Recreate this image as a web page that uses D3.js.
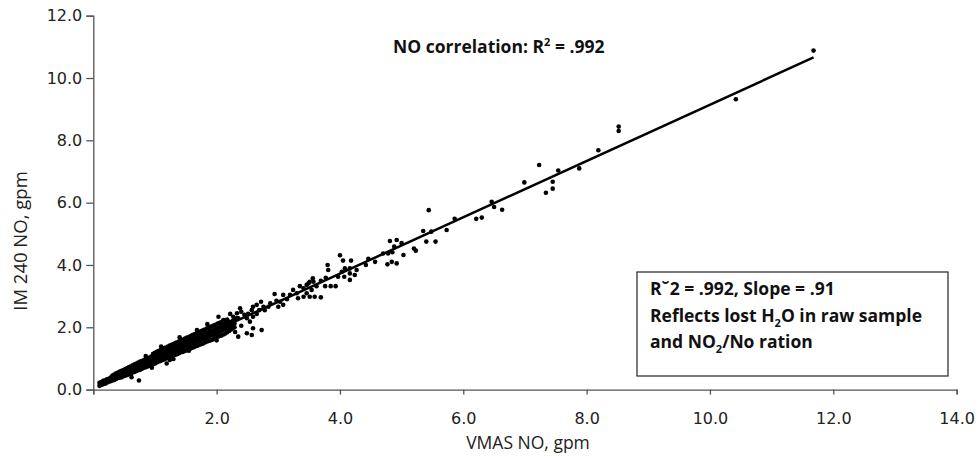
<!DOCTYPE html>
<html lang="en">
<head>
	<meta charset="utf-8">
	<title>VMAS NO vs IM 240 NO</title>
	<script type="text/javascript" src="https://cdn.jsdelivr.net/npm/d3@7/dist/d3.min.js"></script>
</head>
<style type="text/css">
	body{ margin:0; background:#fff; }
	svg{ display:block; }
	.tick text{ font-family:"DejaVu Sans", sans-serif; font-size:16px; fill:#222; }
	.axisTitle{ font-family:"Open Sans", "Liberation Sans", sans-serif; font-size:17.5px; fill:#222; }
	.note{ font-family:"Open Sans", "Liberation Sans", sans-serif; font-size:17.5px; font-weight:bold; fill:#111; }
</style>
<body>
<div id="vizContainer"></div>
<script type="text/javascript">
// -----------DATA-----------
var xTicks = [0, 2, 4, 6, 8, 10, 12, 14];
var xTickLabels = ["", "2.0", "4.0", "6.0", "8.0", "10.0", "12.0", "14.0"];
var yTicks = [0, 2, 4, 6, 8, 10, 12];
var yTickLabels = ["0.0", "2.0", "4.0", "6.0", "8.0", "10.0", "12.0"];

// regression line end points (VMAS NO, IM 240 NO)
var fitX = [0.10, 11.68];
var fitY = [0.20, 10.66];

// scattered vehicles
var pointsOutlying = [
	[11.68,10.88],[10.42,9.32],[8.52,8.44],[8.52,8.30],[8.19,7.68],[7.88,7.10],[7.54,7.03],
	[7.45,6.67],[7.45,6.45],[7.34,6.32],[7.23,7.21],[6.99,6.65],[6.63,5.77],[6.50,5.86],
	[6.46,6.03],[6.30,5.52],[6.21,5.48],[5.86,5.48],[5.44,5.76],[5.73,5.12],[5.48,5.07],
	[5.35,5.09],[5.40,4.75],[5.55,4.75],[4.81,4.77],[4.92,4.80],[5.00,4.70],[4.88,4.59],
	[5.03,4.32],[5.20,4.53],[5.23,4.46],[4.70,4.37],[4.78,4.37],[4.85,4.41],[4.77,4.02],
	[4.92,4.05],[4.84,4.10],[4.46,4.20],[4.57,4.10],[4.42,4.00],[4.00,4.31],[4.05,4.14],
	[4.18,4.14],[3.80,4.00],[3.81,3.84],[4.03,3.78],[4.08,3.89],[4.16,3.89],[4.27,3.84],
	[4.16,3.73],[4.07,3.62],[4.24,3.68],[4.16,3.52],[3.97,3.62],[3.77,3.59],[3.69,3.49],
	[3.56,3.57],[3.51,3.46],[3.49,3.41],[3.62,3.32],[3.76,3.32],[3.85,3.32],[3.93,3.32],
	[3.35,3.32],[3.41,3.25],[3.24,3.20],[3.30,3.09],[3.46,3.09],[3.51,2.98],[3.59,2.98],
	[3.69,2.96],[3.41,2.98],[3.32,2.93],[3.57,3.46],[3.46,3.36],[3.54,3.20],[3.19,3.04],
	[3.08,3.04],[3.14,2.90],[2.94,3.07],[2.97,2.85],[3.03,2.82],[3.00,2.66],[3.08,2.72],
	[2.87,2.77],[2.84,2.66],[2.76,2.66],[2.78,2.55],[2.72,2.82],[2.65,2.72],[2.59,2.66],
	[2.57,2.55],[2.69,2.55],[2.65,2.43],[2.59,2.34],[2.51,2.43],[2.49,2.29],[2.54,2.18],
	[2.38,2.61],[2.40,2.50],[2.33,2.45],[2.27,2.34],[2.22,2.43],[2.35,2.29],[2.59,1.97],
	[2.57,1.75],[2.73,1.91],[2.35,1.70],[2.49,1.81],[2.03,2.34],[2.11,2.23],[2.19,2.18],
	[1.68,1.91],[1.24,0.95],[1.19,0.84],[0.74,0.29],
	[0.62,0.40],[0.95,0.70],[1.40,1.68],[1.10,1.38],[1.55,1.25],[1.85,2.10],[2.00,1.58],
	[2.33,2.30],[2.40,2.05],[1.30,0.98],[0.85,1.08],[2.45,2.40],[2.30,1.85]
];

// the dense band of vehicles below 2.3 gpm
var pointsCluster = [
	[0.10,0.12],[0.10,0.22],[0.16,0.17],[0.16,0.28],[0.22,0.22],[0.22,0.27],[0.22,0.33],
	[0.28,0.27],[0.28,0.39],[0.34,0.31],[0.34,0.41],[0.34,0.48],[0.40,0.37],[0.40,0.47],
	[0.40,0.55],[0.46,0.40],[0.46,0.52],[0.46,0.60],[0.52,0.45],[0.52,0.56],[0.52,0.66],
	[0.58,0.50],[0.58,0.62],[0.58,0.72],[0.64,0.55],[0.64,0.67],[0.64,0.78],[0.70,0.60],
	[0.70,0.72],[0.70,0.84],[0.76,0.64],[0.76,0.77],[0.76,0.90],[0.82,0.70],[0.82,0.83],
	[0.82,0.95],[0.88,0.74],[0.88,0.88],[0.88,1.01],[0.94,0.80],[0.94,0.93],[0.94,1.06],
	[1.00,0.84],[1.00,0.97],[1.00,1.10],[1.00,1.18],[1.06,0.90],[1.06,1.02],[1.06,1.14],
	[1.06,1.24],[1.12,0.95],[1.12,1.07],[1.12,1.19],[1.12,1.30],[1.18,1.00],[1.18,1.12],
	[1.18,1.24],[1.18,1.35],[1.24,1.05],[1.24,1.18],[1.24,1.30],[1.24,1.41],[1.30,1.10],
	[1.30,1.23],[1.30,1.35],[1.30,1.46],[1.36,1.14],[1.36,1.28],[1.36,1.40],[1.36,1.52],
	[1.42,1.20],[1.42,1.33],[1.42,1.45],[1.42,1.57],[1.48,1.24],[1.48,1.38],[1.48,1.50],
	[1.48,1.63],[1.54,1.29],[1.54,1.43],[1.54,1.56],[1.54,1.68],[1.60,1.34],[1.60,1.48],
	[1.60,1.61],[1.60,1.74],[1.66,1.39],[1.66,1.53],[1.66,1.66],[1.66,1.79],[1.72,1.44],
	[1.72,1.58],[1.72,1.72],[1.72,1.85],[1.78,1.48],[1.78,1.63],[1.78,1.77],[1.78,1.90],
	[1.84,1.54],[1.84,1.68],[1.84,1.82],[1.84,1.96],[1.90,1.58],[1.90,1.73],[1.90,1.87],
	[1.90,2.01],[1.96,1.63],[1.96,1.78],[1.96,1.92],[1.96,2.06],[2.02,1.70],[2.02,1.84],
	[2.02,1.98],[2.02,2.12],[2.08,1.74],[2.08,1.89],[2.08,2.03],[2.08,2.17],[2.14,1.80],
	[2.14,1.95],[2.14,2.09],[2.14,2.22],[2.20,1.88],[2.20,2.01],[2.20,2.14],[2.26,1.96],
	[2.26,2.08],[2.26,2.20]
];

// second pass over the same band, in between the first
var pointsClusterFill = [
	[0.13,0.15],[0.13,0.24],[0.19,0.19],[0.19,0.30],[0.25,0.25],[0.25,0.35],[0.31,0.29],
	[0.31,0.38],[0.31,0.45],[0.37,0.34],[0.37,0.44],[0.37,0.52],[0.43,0.38],[0.43,0.49],
	[0.43,0.58],[0.49,0.43],[0.49,0.54],[0.49,0.63],[0.55,0.47],[0.55,0.59],[0.55,0.69],
	[0.61,0.52],[0.61,0.64],[0.61,0.75],[0.67,0.57],[0.67,0.69],[0.67,0.81],[0.73,0.62],
	[0.73,0.74],[0.73,0.87],[0.79,0.67],[0.79,0.80],[0.79,0.92],[0.85,0.72],[0.85,0.85],
	[0.85,0.98],[0.91,0.77],[0.91,0.90],[0.91,1.03],[0.97,0.81],[0.97,0.95],[0.97,1.08],
	[0.97,1.15],[1.03,0.87],[1.03,1.00],[1.03,1.12],[1.03,1.21],[1.09,0.92],[1.09,1.05],
	[1.09,1.16],[1.09,1.27],[1.15,0.97],[1.15,1.10],[1.15,1.21],[1.15,1.33],[1.21,1.02],
	[1.21,1.15],[1.21,1.27],[1.21,1.38],[1.27,1.07],[1.27,1.20],[1.27,1.32],[1.27,1.44],
	[1.33,1.12],[1.33,1.25],[1.33,1.37],[1.33,1.49],[1.39,1.17],[1.39,1.30],[1.39,1.42],
	[1.39,1.55],[1.45,1.21],[1.45,1.35],[1.45,1.47],[1.45,1.60],[1.51,1.26],[1.51,1.40],
	[1.51,1.53],[1.51,1.66],[1.57,1.31],[1.57,1.45],[1.57,1.58],[1.57,1.71],[1.63,1.36],
	[1.63,1.50],[1.63,1.63],[1.63,1.77],[1.69,1.41],[1.69,1.55],[1.69,1.69],[1.69,1.82],
	[1.75,1.46],[1.75,1.60],[1.75,1.74],[1.75,1.88],[1.81,1.51],[1.81,1.65],[1.81,1.79],
	[1.81,1.93],[1.87,1.56],[1.87,1.70],[1.87,1.84],[1.87,1.98],[1.93,1.60],[1.93,1.75],
	[1.93,1.89],[1.93,2.04],[1.99,1.66],[1.99,1.81],[1.99,1.95],[1.99,2.09],[2.05,1.72],
	[2.05,1.86],[2.05,2.00],[2.05,2.14],[2.11,1.77],[2.11,1.92],[2.11,2.06],[2.11,2.20],
	[2.17,1.84],[2.17,1.98],[2.17,2.12],[2.17,2.25],[2.23,1.92],[2.23,2.04],[2.23,2.17],
	[2.29,2.00],[2.29,2.12],[2.29,2.23]
];

// -----------CANVAS-----------
var width = 978;
var height = 459;
var svgCanvas = d3.select("#vizContainer").append("svg")
	.attr("width", width)
	.attr("height", height);

var xScale = d3.scaleLinear().domain([0, 14]).range([93.3, 956.6]);
var yScale = d3.scaleLinear().domain([0, 12]).range([389.6, 15.7]);

// -----------AXES-----------
var xAxis = d3.axisBottom(xScale)
	.tickValues(xTicks)
	.tickSize(5)
	.tickPadding(18)
	.tickFormat(function(d, i){ return xTickLabels[i]; });
var yAxis = d3.axisLeft(yScale)
	.tickValues(yTicks)
	.tickSize(7)
	.tickPadding(4)
	.tickFormat(function(d, i){ return yTickLabels[i]; });

var gx = svgCanvas.append("g")
	.attr("transform", "translate(0," + yScale(0) + ")")
	.call(xAxis);
var gy = svgCanvas.append("g")
	.attr("transform", "translate(" + xScale(0) + ",0)")
	.call(yAxis);
[gx, gy].forEach(function(g){
	g.selectAll("path, line").attr("stroke", "#555").attr("stroke-width", 1.3);
});

svgCanvas.append("text")
	.attr("class", "axisTitle")
	.attr("x", 528)
	.attr("y", 449)
	.attr("text-anchor", "middle")
	.text("VMAS NO, gpm");
svgCanvas.append("text")
	.attr("class", "axisTitle")
	.attr("transform", "translate(27,241) rotate(-90)")
	.attr("text-anchor", "middle")
	.style("font-size", "18.5px")
	.text("IM 240 NO, gpm");

// -----------MARKS-----------
var allPoints = pointsCluster.concat(pointsClusterFill, pointsOutlying);
svgCanvas.append("g").selectAll("circle")
	.data(allPoints)
	.enter()
	.append("circle")
	.attr("cx", function(d){ return xScale(d[0]); })
	.attr("cy", function(d){ return yScale(d[1]); })
	.attr("r", 2.3)
	.attr("fill", "#000");

svgCanvas.append("line")
	.attr("x1", xScale(fitX[0])).attr("y1", yScale(fitY[0]))
	.attr("x2", xScale(fitX[1])).attr("y2", yScale(fitY[1]))
	.attr("stroke", "#000")
	.attr("stroke-width", 2.5);

// -----------NOTES-----------
var corr = svgCanvas.append("text")
	.attr("class", "note")
	.attr("x", 393)
	.attr("y", 53);
corr.append("tspan").text("NO correlation: R");
corr.append("tspan").attr("dy", -7).attr("font-size", 11).text("2");
corr.append("tspan").attr("dy", 7).text(" = .992");

svgCanvas.append("rect")
	.attr("x", 637).attr("y", 272)
	.attr("width", 311).attr("height", 104)
	.attr("fill", "#fff")
	.attr("stroke", "#222")
	.attr("stroke-width", 1.2);

var l1 = svgCanvas.append("text").attr("class", "note").attr("x", 650).attr("y", 295);
l1.text("R\u02D82 = .992, Slope = .91");

var l2 = svgCanvas.append("text").attr("class", "note").attr("x", 650).attr("y", 321.5);
l2.append("tspan").text("Reflects lost H");
l2.append("tspan").attr("dy", 5).attr("font-size", 11).text("2");
l2.append("tspan").attr("dy", -5).text("O in raw sample");

var l3 = svgCanvas.append("text").attr("class", "note").attr("x", 650).attr("y", 348);
l3.append("tspan").text("and NO");
l3.append("tspan").attr("dy", 5).attr("font-size", 11).text("2");
l3.append("tspan").attr("dy", -5).text("/No ration");
</script>
</body>
</html>
